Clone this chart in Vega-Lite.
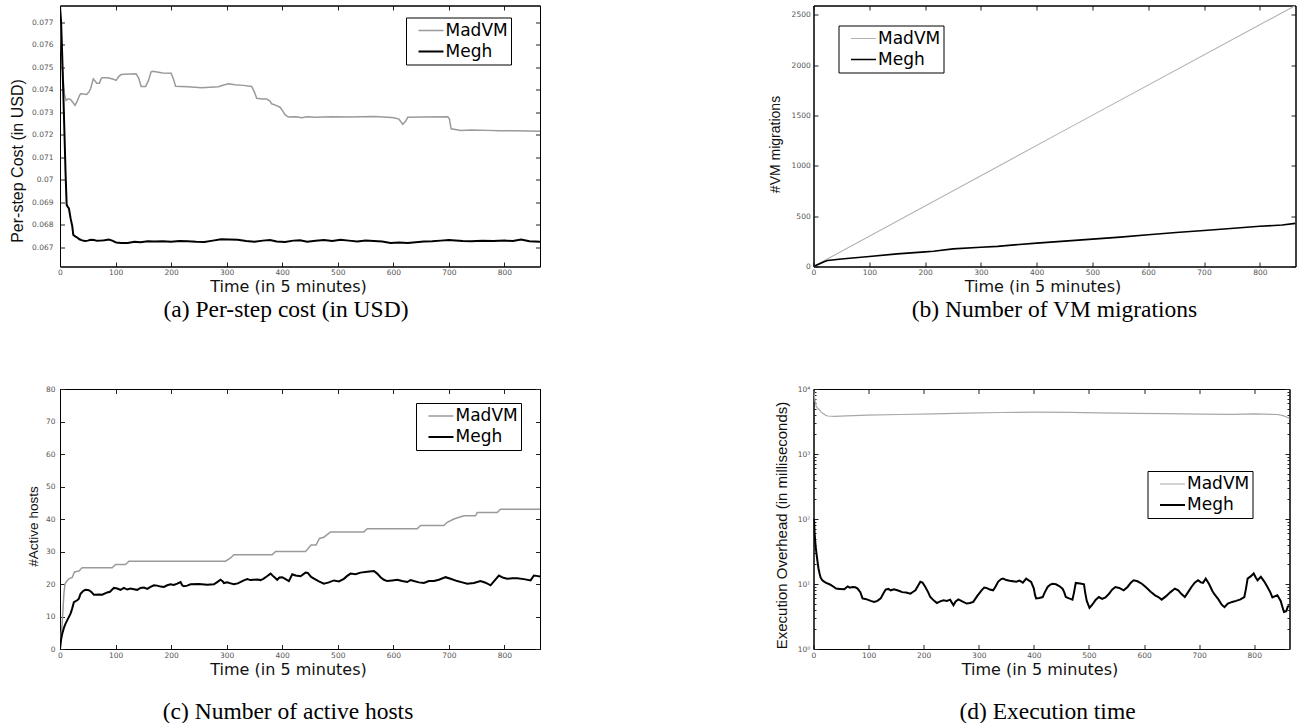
{
"$schema": "https://vega.github.io/schema/vega-lite/v6.json",
"background": "white",
"padding": {"left": 8, "top": 4.5, "right": 5, "bottom": 0},
"config": {
  "view": {"stroke": "black", "strokeWidth": 1},
  "axis": {"grid": false, "domainColor": "#000", "tickColor": "#222", "tickSize": -4.5, "labelFont": "DejaVu Sans", "labelFontSize": 7.5, "labelColor": "#555", "labelFlush": false, "titleFontWeight": "normal", "titleColor": "#111"},
  "legend": {"orient": "none", "title": null, "symbolType": "stroke", "symbolSize": 625, "clipHeight": 21, "strokeColor": "black", "fillColor": "white", "padding": 2.5, "rowPadding": 0, "labelFont": "DejaVu Sans", "labelFontSize": 17, "labelColor": "black", "symbolOffset": 9, "labelOffset": 1, "symbolStrokeWidth": 1.8, "labelLimit": 300},
  "title": {"font": "Liberation Serif", "fontSize": 23.5, "fontWeight": "normal", "color": "black", "orient": "bottom", "anchor": "middle"}
},
"datasets": {
"cost": [
{"t":0,"series":"MadVM","v":0.0776},{"t":4,"series":"MadVM","v":0.075},{"t":8,"series":"MadVM","v":0.0738},{"t":11,"series":"MadVM","v":0.07353},{"t":14,"series":"MadVM","v":0.0736},{"t":17,"series":"MadVM","v":0.0736},{"t":20,"series":"MadVM","v":0.07355},{"t":23,"series":"MadVM","v":0.07345},{"t":27,"series":"MadVM","v":0.07331},{"t":31,"series":"MadVM","v":0.0735},{"t":35,"series":"MadVM","v":0.07375},{"t":37,"series":"MadVM","v":0.07383},{"t":42,"series":"MadVM","v":0.07382},{"t":48,"series":"MadVM","v":0.0738},{"t":52,"series":"MadVM","v":0.0739},{"t":55,"series":"MadVM","v":0.07405},{"t":60,"series":"MadVM","v":0.07449},{"t":63,"series":"MadVM","v":0.0744},{"t":66,"series":"MadVM","v":0.0743},{"t":71,"series":"MadVM","v":0.0743},{"t":74,"series":"MadVM","v":0.0745},{"t":76,"series":"MadVM","v":0.07454},{"t":86,"series":"MadVM","v":0.07454},{"t":95,"series":"MadVM","v":0.07448},{"t":101,"series":"MadVM","v":0.07442},{"t":106,"series":"MadVM","v":0.0746},{"t":110,"series":"MadVM","v":0.07468},{"t":125,"series":"MadVM","v":0.07471},{"t":137,"series":"MadVM","v":0.07472},{"t":142,"series":"MadVM","v":0.0745},{"t":146,"series":"MadVM","v":0.07415},{"t":154,"series":"MadVM","v":0.07415},{"t":159,"series":"MadVM","v":0.0744},{"t":164,"series":"MadVM","v":0.0748},{"t":167,"series":"MadVM","v":0.07483},{"t":185,"series":"MadVM","v":0.07475},{"t":200,"series":"MadVM","v":0.07474},{"t":204,"series":"MadVM","v":0.0745},{"t":208,"series":"MadVM","v":0.07416},{"t":230,"series":"MadVM","v":0.07414},{"t":255,"series":"MadVM","v":0.0741},{"t":270,"series":"MadVM","v":0.07412},{"t":285,"series":"MadVM","v":0.07414},{"t":295,"series":"MadVM","v":0.07422},{"t":303,"series":"MadVM","v":0.07427},{"t":315,"series":"MadVM","v":0.07423},{"t":330,"series":"MadVM","v":0.0742},{"t":345,"series":"MadVM","v":0.07415},{"t":350,"series":"MadVM","v":0.0739},{"t":354,"series":"MadVM","v":0.07363},{"t":365,"series":"MadVM","v":0.0736},{"t":372,"series":"MadVM","v":0.0736},{"t":378,"series":"MadVM","v":0.0735},{"t":381,"series":"MadVM","v":0.07338},{"t":390,"series":"MadVM","v":0.0733},{"t":396,"series":"MadVM","v":0.07323},{"t":400,"series":"MadVM","v":0.0731},{"t":405,"series":"MadVM","v":0.0729},{"t":411,"series":"MadVM","v":0.07279},{"t":425,"series":"MadVM","v":0.0728},{"t":435,"series":"MadVM","v":0.07276},{"t":445,"series":"MadVM","v":0.0728},{"t":460,"series":"MadVM","v":0.07278},{"t":489,"series":"MadVM","v":0.0728},{"t":520,"series":"MadVM","v":0.07279},{"t":565,"series":"MadVM","v":0.07282},{"t":590,"series":"MadVM","v":0.07278},{"t":601,"series":"MadVM","v":0.07276},{"t":610,"series":"MadVM","v":0.0727},{"t":617,"series":"MadVM","v":0.07247},{"t":622,"series":"MadVM","v":0.0726},{"t":626,"series":"MadVM","v":0.07278},{"t":650,"series":"MadVM","v":0.07279},{"t":698,"series":"MadVM","v":0.0728},{"t":701,"series":"MadVM","v":0.0727},{"t":704,"series":"MadVM","v":0.07227},{"t":722,"series":"MadVM","v":0.0722},{"t":740,"series":"MadVM","v":0.07222},{"t":770,"series":"MadVM","v":0.0722},{"t":791,"series":"MadVM","v":0.07218},{"t":820,"series":"MadVM","v":0.07218},{"t":864,"series":"MadVM","v":0.07216},
{"t":0,"series":"Megh","v":0.0777},{"t":2,"series":"Megh","v":0.077},{"t":4,"series":"Megh","v":0.0755},{"t":6,"series":"Megh","v":0.0738},{"t":8,"series":"Megh","v":0.0721},{"t":10,"series":"Megh","v":0.0703},{"t":12,"series":"Megh","v":0.06888},{"t":14,"series":"Megh","v":0.0688},{"t":16,"series":"Megh","v":0.06873},{"t":19,"series":"Megh","v":0.0683},{"t":22,"series":"Megh","v":0.06795},{"t":24,"series":"Megh","v":0.06755},{"t":28,"series":"Megh","v":0.06748},{"t":31,"series":"Megh","v":0.06744},{"t":35,"series":"Megh","v":0.06736},{"t":40,"series":"Megh","v":0.06731},{"t":45,"series":"Megh","v":0.06728},{"t":50,"series":"Megh","v":0.0673},{"t":55,"series":"Megh","v":0.06734},{"t":61,"series":"Megh","v":0.06733},{"t":67,"series":"Megh","v":0.06729},{"t":73,"series":"Megh","v":0.0673},{"t":80,"series":"Megh","v":0.06732},{"t":88,"series":"Megh","v":0.06735},{"t":94,"series":"Megh","v":0.0673},{"t":101,"series":"Megh","v":0.06722},{"t":110,"series":"Megh","v":0.0672},{"t":122,"series":"Megh","v":0.0672},{"t":134,"series":"Megh","v":0.06725},{"t":145,"series":"Megh","v":0.06723},{"t":158,"series":"Megh","v":0.06727},{"t":170,"series":"Megh","v":0.06726},{"t":185,"series":"Megh","v":0.06727},{"t":200,"series":"Megh","v":0.06725},{"t":215,"series":"Megh","v":0.06728},{"t":230,"series":"Megh","v":0.06727},{"t":245,"series":"Megh","v":0.06725},{"t":260,"series":"Megh","v":0.06724},{"t":275,"series":"Megh","v":0.0673},{"t":290,"series":"Megh","v":0.06736},{"t":305,"series":"Megh","v":0.06735},{"t":320,"series":"Megh","v":0.06734},{"t":335,"series":"Megh","v":0.06728},{"t":350,"series":"Megh","v":0.06725},{"t":365,"series":"Megh","v":0.0673},{"t":378,"series":"Megh","v":0.06733},{"t":390,"series":"Megh","v":0.06726},{"t":405,"series":"Megh","v":0.06724},{"t":420,"series":"Megh","v":0.0673},{"t":432,"series":"Megh","v":0.06732},{"t":445,"series":"Megh","v":0.06725},{"t":460,"series":"Megh","v":0.06729},{"t":475,"series":"Megh","v":0.06733},{"t":490,"series":"Megh","v":0.06728},{"t":505,"series":"Megh","v":0.06734},{"t":520,"series":"Megh","v":0.0673},{"t":535,"series":"Megh","v":0.06726},{"t":550,"series":"Megh","v":0.0673},{"t":565,"series":"Megh","v":0.06728},{"t":580,"series":"Megh","v":0.06726},{"t":595,"series":"Megh","v":0.0672},{"t":610,"series":"Megh","v":0.06722},{"t":626,"series":"Megh","v":0.0672},{"t":640,"series":"Megh","v":0.06723},{"t":655,"series":"Megh","v":0.06726},{"t":670,"series":"Megh","v":0.06727},{"t":685,"series":"Megh","v":0.0673},{"t":700,"series":"Megh","v":0.06733},{"t":712,"series":"Megh","v":0.06731},{"t":725,"series":"Megh","v":0.06728},{"t":740,"series":"Megh","v":0.06727},{"t":760,"series":"Megh","v":0.06729},{"t":780,"series":"Megh","v":0.06728},{"t":800,"series":"Megh","v":0.0673},{"t":815,"series":"Megh","v":0.06728},{"t":830,"series":"Megh","v":0.06735},{"t":845,"series":"Megh","v":0.06727},{"t":864,"series":"Megh","v":0.06725}
],
"migrations": [
{"t":0,"series":"MadVM","v":0},{"t":439,"series":"MadVM","v":1320},{"t":864,"series":"MadVM","v":2593},
{"t":0,"series":"Megh","v":0},{"t":10,"series":"Megh","v":25},{"t":20,"series":"Megh","v":50},{"t":25,"series":"Megh","v":60},{"t":50,"series":"Megh","v":75},{"t":100,"series":"Megh","v":100},{"t":150,"series":"Megh","v":125},{"t":200,"series":"Megh","v":145},{"t":215,"series":"Megh","v":152},{"t":250,"series":"Megh","v":175},{"t":300,"series":"Megh","v":192},{"t":330,"series":"Megh","v":200},{"t":360,"series":"Megh","v":215},{"t":400,"series":"Megh","v":232},{"t":450,"series":"Megh","v":252},{"t":500,"series":"Megh","v":272},{"t":550,"series":"Megh","v":292},{"t":600,"series":"Megh","v":315},{"t":650,"series":"Megh","v":338},{"t":700,"series":"Megh","v":358},{"t":730,"series":"Megh","v":370},{"t":800,"series":"Megh","v":400},{"t":840,"series":"Megh","v":412},{"t":864,"series":"Megh","v":428}
],
"hosts": [
{"t":0,"series":"MadVM","v":0},{"t":4,"series":"MadVM","v":8},{"t":7,"series":"MadVM","v":17},{"t":9,"series":"MadVM","v":20},{"t":11,"series":"MadVM","v":20.6},{"t":16,"series":"MadVM","v":21.6},{"t":22,"series":"MadVM","v":22},{"t":26,"series":"MadVM","v":23.7},{"t":34,"series":"MadVM","v":24},{"t":40,"series":"MadVM","v":25},{"t":94,"series":"MadVM","v":25},{"t":100,"series":"MadVM","v":26},{"t":118,"series":"MadVM","v":26},{"t":124,"series":"MadVM","v":27},{"t":298,"series":"MadVM","v":27},{"t":307,"series":"MadVM","v":28},{"t":313,"series":"MadVM","v":29},{"t":382,"series":"MadVM","v":29},{"t":388,"series":"MadVM","v":30},{"t":442,"series":"MadVM","v":30},{"t":452,"series":"MadVM","v":32},{"t":461,"series":"MadVM","v":32},{"t":467,"series":"MadVM","v":34},{"t":475,"series":"MadVM","v":34.4},{"t":487,"series":"MadVM","v":36},{"t":547,"series":"MadVM","v":36},{"t":553,"series":"MadVM","v":37},{"t":643,"series":"MadVM","v":37},{"t":649,"series":"MadVM","v":38},{"t":691,"series":"MadVM","v":38},{"t":697,"series":"MadVM","v":39},{"t":709,"series":"MadVM","v":40},{"t":727,"series":"MadVM","v":41},{"t":748,"series":"MadVM","v":41},{"t":751,"series":"MadVM","v":42},{"t":787,"series":"MadVM","v":42},{"t":793,"series":"MadVM","v":43},{"t":864,"series":"MadVM","v":43},
{"t":0,"series":"Megh","v":0},{"t":2,"series":"Megh","v":3},{"t":4,"series":"Megh","v":4.7},{"t":7,"series":"Megh","v":6.5},{"t":10,"series":"Megh","v":7.8},{"t":14,"series":"Megh","v":9.2},{"t":19,"series":"Megh","v":10.9},{"t":22,"series":"Megh","v":12.5},{"t":25,"series":"Megh","v":14.4},{"t":31,"series":"Megh","v":15},{"t":34,"series":"Megh","v":15.5},{"t":37,"series":"Megh","v":17},{"t":42,"series":"Megh","v":17.9},{"t":46,"series":"Megh","v":18.2},{"t":52,"series":"Megh","v":18.1},{"t":56,"series":"Megh","v":17.6},{"t":61,"series":"Megh","v":16.7},{"t":70,"series":"Megh","v":16.8},{"t":76,"series":"Megh","v":16.7},{"t":85,"series":"Megh","v":17.4},{"t":90,"series":"Megh","v":17.6},{"t":97,"series":"Megh","v":18.8},{"t":103,"series":"Megh","v":18.6},{"t":109,"series":"Megh","v":18.2},{"t":115,"series":"Megh","v":18.8},{"t":121,"series":"Megh","v":18.3},{"t":127,"series":"Megh","v":18.6},{"t":133,"series":"Megh","v":18.4},{"t":139,"series":"Megh","v":18.2},{"t":145,"series":"Megh","v":18.8},{"t":151,"series":"Megh","v":18.9},{"t":157,"series":"Megh","v":18.5},{"t":163,"series":"Megh","v":19.1},{"t":169,"series":"Megh","v":19.6},{"t":175,"series":"Megh","v":19.5},{"t":181,"series":"Megh","v":19.2},{"t":187,"series":"Megh","v":19.1},{"t":193,"series":"Megh","v":19.6},{"t":199,"series":"Megh","v":19.9},{"t":205,"series":"Megh","v":19.7},{"t":211,"series":"Megh","v":20.1},{"t":217,"series":"Megh","v":20.6},{"t":220,"series":"Megh","v":19.6},{"t":223,"series":"Megh","v":19.3},{"t":229,"series":"Megh","v":19.5},{"t":235,"series":"Megh","v":19.9},{"t":250,"series":"Megh","v":20},{"t":265,"series":"Megh","v":19.8},{"t":277,"series":"Megh","v":19.9},{"t":283,"series":"Megh","v":20.6},{"t":289,"series":"Megh","v":21.3},{"t":293,"series":"Megh","v":20.8},{"t":295,"series":"Megh","v":20.3},{"t":301,"series":"Megh","v":20.5},{"t":307,"series":"Megh","v":20.2},{"t":313,"series":"Megh","v":19.9},{"t":320,"series":"Megh","v":20.2},{"t":331,"series":"Megh","v":21.1},{"t":337,"series":"Megh","v":21.5},{"t":343,"series":"Megh","v":21.2},{"t":349,"series":"Megh","v":21.3},{"t":355,"series":"Megh","v":21.4},{"t":361,"series":"Megh","v":21.2},{"t":366,"series":"Megh","v":21.6},{"t":372,"series":"Megh","v":22.3},{"t":379,"series":"Megh","v":23.2},{"t":385,"series":"Megh","v":22.2},{"t":391,"series":"Megh","v":21.3},{"t":395,"series":"Megh","v":22},{"t":400,"series":"Megh","v":22.1},{"t":406,"series":"Megh","v":21.5},{"t":412,"series":"Megh","v":20.9},{"t":418,"series":"Megh","v":23},{"t":424,"series":"Megh","v":22.6},{"t":433,"series":"Megh","v":22.4},{"t":442,"series":"Megh","v":23.5},{"t":446,"series":"Megh","v":23.4},{"t":452,"series":"Megh","v":22.2},{"t":458,"series":"Megh","v":21.6},{"t":466,"series":"Megh","v":20.8},{"t":475,"series":"Megh","v":20.1},{"t":484,"series":"Megh","v":20.5},{"t":493,"series":"Megh","v":21.1},{"t":502,"series":"Megh","v":20.8},{"t":511,"series":"Megh","v":21.6},{"t":517,"series":"Megh","v":22.5},{"t":523,"series":"Megh","v":23.2},{"t":532,"series":"Megh","v":23},{"t":541,"series":"Megh","v":23.5},{"t":553,"series":"Megh","v":23.8},{"t":565,"series":"Megh","v":24},{"t":571,"series":"Megh","v":23.2},{"t":577,"series":"Megh","v":22.1},{"t":583,"series":"Megh","v":21.3},{"t":589,"series":"Megh","v":20.9},{"t":598,"series":"Megh","v":21.1},{"t":607,"series":"Megh","v":21.3},{"t":616,"series":"Megh","v":20.9},{"t":625,"series":"Megh","v":20.6},{"t":631,"series":"Megh","v":21.2},{"t":637,"series":"Megh","v":20.9},{"t":646,"series":"Megh","v":20.5},{"t":655,"series":"Megh","v":20.3},{"t":664,"series":"Megh","v":20.9},{"t":673,"series":"Megh","v":20.9},{"t":682,"series":"Megh","v":21.3},{"t":694,"series":"Megh","v":22.1},{"t":703,"series":"Megh","v":21.6},{"t":715,"series":"Megh","v":20.9},{"t":724,"series":"Megh","v":20.5},{"t":733,"series":"Megh","v":20.1},{"t":745,"series":"Megh","v":20.3},{"t":757,"series":"Megh","v":20.9},{"t":766,"series":"Megh","v":20.4},{"t":775,"series":"Megh","v":19.6},{"t":781,"series":"Megh","v":20.8},{"t":790,"series":"Megh","v":22.6},{"t":798,"series":"Megh","v":21.9},{"t":805,"series":"Megh","v":21.6},{"t":814,"series":"Megh","v":21.8},{"t":823,"series":"Megh","v":21.8},{"t":835,"series":"Megh","v":21.5},{"t":847,"series":"Megh","v":21.1},{"t":853,"series":"Megh","v":22.6},{"t":858,"series":"Megh","v":22.5},{"t":864,"series":"Megh","v":22.3}
],
"exec": [
{"t":0,"series":"MadVM","v":9500},{"t":1,"series":"MadVM","v":8600},{"t":3,"series":"MadVM","v":6500},{"t":5,"series":"MadVM","v":5340},{"t":8,"series":"MadVM","v":5000},{"t":11,"series":"MadVM","v":4760},{"t":14,"series":"MadVM","v":4400},{"t":17,"series":"MadVM","v":4220},{"t":22,"series":"MadVM","v":3950},{"t":26,"series":"MadVM","v":3840},{"t":38,"series":"MadVM","v":3800},{"t":60,"series":"MadVM","v":3850},{"t":98,"series":"MadVM","v":3950},{"t":158,"series":"MadVM","v":4050},{"t":218,"series":"MadVM","v":4150},{"t":278,"series":"MadVM","v":4250},{"t":338,"series":"MadVM","v":4350},{"t":400,"series":"MadVM","v":4400},{"t":464,"series":"MadVM","v":4380},{"t":520,"series":"MadVM","v":4300},{"t":584,"series":"MadVM","v":4220},{"t":640,"series":"MadVM","v":4180},{"t":704,"series":"MadVM","v":4100},{"t":760,"series":"MadVM","v":4080},{"t":800,"series":"MadVM","v":4150},{"t":842,"series":"MadVM","v":4050},{"t":852,"series":"MadVM","v":3900},{"t":864,"series":"MadVM","v":3550},
{"t":0,"series":"Megh","v":100},{"t":1,"series":"Megh","v":96},{"t":2,"series":"Megh","v":60},{"t":4,"series":"Megh","v":37},{"t":7,"series":"Megh","v":23},{"t":9,"series":"Megh","v":17.5},{"t":11,"series":"Megh","v":14.5},{"t":13,"series":"Megh","v":12.5},{"t":16,"series":"Megh","v":11.4},{"t":20,"series":"Megh","v":10.8},{"t":23,"series":"Megh","v":10.4},{"t":28,"series":"Megh","v":10},{"t":32,"series":"Megh","v":9.6},{"t":37,"series":"Megh","v":9},{"t":41,"series":"Megh","v":8.5},{"t":48,"series":"Megh","v":8.4},{"t":56,"series":"Megh","v":8.3},{"t":62,"series":"Megh","v":9.2},{"t":66,"series":"Megh","v":8.8},{"t":71,"series":"Megh","v":9},{"t":76,"series":"Megh","v":8.9},{"t":80,"series":"Megh","v":8.5},{"t":85,"series":"Megh","v":7.5},{"t":89,"series":"Megh","v":6},{"t":94,"series":"Megh","v":5.9},{"t":98,"series":"Megh","v":5.75},{"t":104,"series":"Megh","v":5.5},{"t":110,"series":"Megh","v":5.3},{"t":116,"series":"Megh","v":5.5},{"t":122,"series":"Megh","v":6},{"t":127,"series":"Megh","v":7.2},{"t":131,"series":"Megh","v":8.2},{"t":136,"series":"Megh","v":8.4},{"t":140,"series":"Megh","v":8},{"t":146,"series":"Megh","v":8.3},{"t":152,"series":"Megh","v":8},{"t":156,"series":"Megh","v":7.8},{"t":161,"series":"Megh","v":7.5},{"t":168,"series":"Megh","v":7.4},{"t":176,"series":"Megh","v":7.1},{"t":181,"series":"Megh","v":7.6},{"t":185,"series":"Megh","v":8},{"t":190,"series":"Megh","v":9.5},{"t":194,"series":"Megh","v":10.8},{"t":198,"series":"Megh","v":10.5},{"t":203,"series":"Megh","v":9},{"t":208,"series":"Megh","v":7.5},{"t":212,"series":"Megh","v":6.3},{"t":218,"series":"Megh","v":5.6},{"t":224,"series":"Megh","v":5.1},{"t":230,"series":"Megh","v":5.4},{"t":236,"series":"Megh","v":5.6},{"t":242,"series":"Megh","v":5.5},{"t":248,"series":"Megh","v":5.75},{"t":251,"series":"Megh","v":5.2},{"t":254,"series":"Megh","v":4.7},{"t":258,"series":"Megh","v":5.4},{"t":263,"series":"Megh","v":5.8},{"t":270,"series":"Megh","v":5.4},{"t":278,"series":"Megh","v":5},{"t":284,"series":"Megh","v":5.1},{"t":290,"series":"Megh","v":5.3},{"t":297,"series":"Megh","v":6.5},{"t":305,"series":"Megh","v":8},{"t":310,"series":"Megh","v":8.8},{"t":314,"series":"Megh","v":8.7},{"t":320,"series":"Megh","v":8.2},{"t":326,"series":"Megh","v":8},{"t":330,"series":"Megh","v":9},{"t":335,"series":"Megh","v":10.8},{"t":340,"series":"Megh","v":11.8},{"t":344,"series":"Megh","v":12.1},{"t":350,"series":"Megh","v":11.5},{"t":356,"series":"Megh","v":11.2},{"t":362,"series":"Megh","v":11},{"t":368,"series":"Megh","v":10.8},{"t":374,"series":"Megh","v":11.3},{"t":380,"series":"Megh","v":10.5},{"t":386,"series":"Megh","v":12.1},{"t":390,"series":"Megh","v":11.5},{"t":395,"series":"Megh","v":10.8},{"t":400,"series":"Megh","v":8.5},{"t":402,"series":"Megh","v":6.8},{"t":404,"series":"Megh","v":6},{"t":410,"series":"Megh","v":6.1},{"t":416,"series":"Megh","v":6.3},{"t":420,"series":"Megh","v":7.5},{"t":425,"series":"Megh","v":9},{"t":430,"series":"Megh","v":9.8},{"t":434,"series":"Megh","v":10.1},{"t":440,"series":"Megh","v":9.9},{"t":446,"series":"Megh","v":9.3},{"t":452,"series":"Megh","v":8.5},{"t":455,"series":"Megh","v":7.5},{"t":458,"series":"Megh","v":6.3},{"t":464,"series":"Megh","v":6},{"t":470,"series":"Megh","v":5.75},{"t":473,"series":"Megh","v":7.5},{"t":476,"series":"Megh","v":10.4},{"t":484,"series":"Megh","v":10.2},{"t":491,"series":"Megh","v":9.9},{"t":493,"series":"Megh","v":7.5},{"t":496,"series":"Megh","v":5.5},{"t":501,"series":"Megh","v":4.3},{"t":506,"series":"Megh","v":4.8},{"t":512,"series":"Megh","v":5.7},{"t":518,"series":"Megh","v":6.3},{"t":524,"series":"Megh","v":5.9},{"t":530,"series":"Megh","v":6.2},{"t":536,"series":"Megh","v":7},{"t":542,"series":"Megh","v":8.2},{"t":548,"series":"Megh","v":9},{"t":555,"series":"Megh","v":8.7},{"t":563,"series":"Megh","v":8},{"t":570,"series":"Megh","v":9},{"t":576,"series":"Megh","v":10.5},{"t":581,"series":"Megh","v":11.4},{"t":588,"series":"Megh","v":11},{"t":596,"series":"Megh","v":10.1},{"t":604,"series":"Megh","v":8.8},{"t":612,"series":"Megh","v":7.6},{"t":620,"series":"Megh","v":6.7},{"t":626,"series":"Megh","v":6.3},{"t":632,"series":"Megh","v":5.75},{"t":640,"series":"Megh","v":6.5},{"t":648,"series":"Megh","v":7.5},{"t":656,"series":"Megh","v":8.5},{"t":662,"series":"Megh","v":8},{"t":668,"series":"Megh","v":7},{"t":674,"series":"Megh","v":6.3},{"t":680,"series":"Megh","v":7.5},{"t":686,"series":"Megh","v":9},{"t":692,"series":"Megh","v":10.5},{"t":698,"series":"Megh","v":11.4},{"t":703,"series":"Megh","v":10.6},{"t":707,"series":"Megh","v":10.4},{"t":712,"series":"Megh","v":12.1},{"t":718,"series":"Megh","v":10},{"t":724,"series":"Megh","v":7.8},{"t":728,"series":"Megh","v":6.9},{"t":735,"series":"Megh","v":5.8},{"t":741,"series":"Megh","v":4.8},{"t":746,"series":"Megh","v":4.4},{"t":752,"series":"Megh","v":5},{"t":760,"series":"Megh","v":5.3},{"t":767,"series":"Megh","v":5.5},{"t":775,"series":"Megh","v":5.8},{"t":782,"series":"Megh","v":6.3},{"t":785,"series":"Megh","v":8.5},{"t":788,"series":"Megh","v":12.1},{"t":794,"series":"Megh","v":13.2},{"t":799,"series":"Megh","v":14.5},{"t":803,"series":"Megh","v":12.5},{"t":806,"series":"Megh","v":11.4},{"t":812,"series":"Megh","v":12.9},{"t":818,"series":"Megh","v":11},{"t":824,"series":"Megh","v":9},{"t":829,"series":"Megh","v":7.5},{"t":833,"series":"Megh","v":6.2},{"t":838,"series":"Megh","v":6.5},{"t":842,"series":"Megh","v":6.7},{"t":848,"series":"Megh","v":5.5},{"t":852,"series":"Megh","v":4.2},{"t":854,"series":"Megh","v":3.7},{"t":858,"series":"Megh","v":3.8},{"t":861,"series":"Megh","v":4.5},{"t":864,"series":"Megh","v":4.6}
]
},
"columns": 2,
"spacing": {"row": 122.5, "column": 273.5},
"bounds": "flush",
"resolve": {"scale": {"color": "independent", "strokeWidth": "independent", "x": "independent", "y": "independent"}, "legend": {"color": "independent", "strokeWidth": "independent"}},
"concat": [
{
"width": 480, "height": 261,
"title": {"text": "(a) Per-step cost (in USD)", "offset": 3, "dx": -14},
"data": {"name": "cost"},
"layer": [
{"mark": {"type": "line", "clip": true},
 "encoding": {
  "x": {"field": "t", "type": "quantitative", "scale": {"domain": [0, 864], "nice": false, "zero": false},
        "axis": {"orient": "bottom", "values": [0,100,200,300,400,500,600,700,800], "labelPadding": 6.5, "title": "Time (in 5 minutes)", "titleFont": "DejaVu Sans", "titleFontSize": 16, "titleX": 228, "titleY": 20, "titleBaseline": "middle", "titleAlign": "center"}},
  "y": {"field": "v", "type": "quantitative", "scale": {"domain": [0.06615, 0.07775], "nice": false, "zero": false},
        "axis": {"orient": "left", "values": [0.067,0.068,0.069,0.07,0.071,0.072,0.073,0.074,0.075,0.076,0.077], "format": ".3~f", "labelPadding": 11.5, "title": "Per-step Cost (in USD)", "titleFont": "Liberation Sans", "titleFontSize": 16, "titleX": -35, "titleY": 155, "titleBaseline": "bottom", "titleAlign": "center", "titleAngle": -90}},
  "color": {"field": "series", "type": "nominal", "scale": {"domain": ["MadVM", "Megh"], "range": ["#9a9a9a", "#000000"]},
            "legend": {"legendX": 346, "legendY": 12, "labelExpr": "datum.label + '\u2003\u2003'"}},
  "strokeWidth": {"field": "series", "type": "nominal", "scale": {"domain": ["MadVM", "Megh"], "range": [1.5, 2]}, "legend": null}
 }},
{"mark": {"type": "line", "opacity": 0},
 "encoding": {
  "x": {"field": "t", "type": "quantitative", "axis": {"orient": "top", "values": [0,100,200,300,400,500,600,700,800], "labels": false, "title": null}},
  "y": {"field": "v", "type": "quantitative", "axis": {"orient": "right", "values": [0.067,0.068,0.069,0.07,0.071,0.072,0.073,0.074,0.075,0.076,0.077], "labels": false, "title": null}},
  "detail": {"field": "series"}
 }}
],
"resolve": {"axis": {"x": "independent", "y": "independent"}}
},
{
"width": 482, "height": 261,
"title": {"text": "(b) Number of VM migrations", "offset": 3, "dx": 0},
"data": {"name": "migrations"},
"layer": [
{"mark": {"type": "line", "clip": true},
 "encoding": {
  "x": {"field": "t", "type": "quantitative", "scale": {"domain": [0, 864], "nice": false, "zero": false},
        "axis": {"orient": "bottom", "values": [0,100,200,300,400,500,600,700,800], "labelPadding": 6.5, "title": "Time (in 5 minutes)", "titleFont": "DejaVu Sans", "titleFontSize": 16, "titleX": 229, "titleY": 20, "titleBaseline": "middle", "titleAlign": "center"}},
  "y": {"field": "v", "type": "quantitative", "scale": {"domain": [0, 2593], "nice": false, "zero": false},
        "axis": {"orient": "left", "values": [0,500,1000,1500,2000,2500], "format": "d", "labelPadding": 7.8, "title": "#VM migrations", "titleFont": "Liberation Sans", "titleFontSize": 14, "titleX": -31, "titleY": 138.5, "titleBaseline": "bottom", "titleAlign": "center", "titleAngle": -90}},
  "color": {"field": "series", "type": "nominal", "scale": {"domain": ["MadVM", "Megh"], "range": ["#b2b2b2", "#000000"]},
            "legend": {"legendX": 25, "legendY": 20, "symbolStrokeWidth": 1.4, "labelExpr": "datum.label + '\u2003\u2003'"}},
  "strokeWidth": {"field": "series", "type": "nominal", "scale": {"domain": ["MadVM", "Megh"], "range": [1.1, 1.6]}, "legend": null}
 }},
{"mark": {"type": "line", "opacity": 0},
 "encoding": {
  "x": {"field": "t", "type": "quantitative", "axis": {"orient": "top", "values": [0,100,200,300,400,500,600,700,800], "labels": false, "title": null}},
  "y": {"field": "v", "type": "quantitative", "axis": {"orient": "right", "values": [0,500,1000,1500,2000,2500], "labels": false, "title": null}},
  "detail": {"field": "series"}
 }}
],
"resolve": {"axis": {"x": "independent", "y": "independent"}}
},
{
"width": 480, "height": 260,
"title": {"text": "(c) Number of active hosts", "offset": 23, "dx": -12},
"data": {"name": "hosts"},
"layer": [
{"mark": {"type": "line", "clip": true},
 "encoding": {
  "x": {"field": "t", "type": "quantitative", "scale": {"domain": [0, 864], "nice": false, "zero": false},
        "axis": {"orient": "bottom", "values": [0,100,200,300,400,500,600,700,800], "labelPadding": 6.5, "title": "Time (in 5 minutes)", "titleFont": "DejaVu Sans", "titleFontSize": 16, "titleX": 228, "titleY": 20, "titleBaseline": "middle", "titleAlign": "center"}},
  "y": {"field": "v", "type": "quantitative", "scale": {"domain": [0, 80], "nice": false, "zero": false},
        "axis": {"orient": "left", "values": [0,10,20,30,40,50,60,70,80], "labelPadding": 9.5, "title": "#Active hosts", "titleFont": "Liberation Sans", "titleFontSize": 13.5, "titleX": -20, "titleY": 137, "titleBaseline": "bottom", "titleAlign": "center", "titleAngle": -90}},
  "color": {"field": "series", "type": "nominal", "scale": {"domain": ["MadVM", "Megh"], "range": ["#9a9a9a", "#000000"]},
            "legend": {"legendX": 356, "legendY": 14, "labelExpr": "datum.label + '\u2003\u2003'"}},
  "strokeWidth": {"field": "series", "type": "nominal", "scale": {"domain": ["MadVM", "Megh"], "range": [1.5, 2]}, "legend": null}
 }},
{"mark": {"type": "line", "opacity": 0},
 "encoding": {
  "x": {"field": "t", "type": "quantitative", "axis": {"orient": "top", "values": [0,100,200,300,400,500,600,700,800], "labels": false, "title": null}},
  "y": {"field": "v", "type": "quantitative", "axis": {"orient": "right", "values": [0,10,20,30,40,50,60,70,80], "labels": false, "title": null}},
  "detail": {"field": "series"}
 }}
],
"resolve": {"axis": {"x": "independent", "y": "independent"}}
},
{
"width": 476, "height": 260,
"title": {"text": "(d) Execution time", "offset": 23, "dx": -4},
"data": {"name": "exec"},
"layer": [
{"mark": {"type": "line", "clip": true},
 "encoding": {
  "x": {"field": "t", "type": "quantitative", "scale": {"domain": [0, 864], "nice": false, "zero": false},
        "axis": {"orient": "bottom", "values": [0,100,200,300,400,500,600,700,800], "labelPadding": 6.5, "title": "Time (in 5 minutes)", "titleFont": "DejaVu Sans", "titleFontSize": 16, "titleX": 226, "titleY": 20, "titleBaseline": "middle", "titleAlign": "center"}},
  "y": {"field": "v", "type": "quantitative", "scale": {"type": "log", "domain": [1, 10000], "nice": false},
        "axis": {"orient": "left", "values": [1,10,100,1000,10000], "labelExpr": "'10' + ['⁰','¹','²','³','⁴'][round(log(datum.value)/LN10)]", "labelPadding": 8.2, "title": "Execution Overhead (in milliseconds)", "titleFont": "Liberation Sans", "titleFontSize": 15, "titleX": -24, "titleY": 136, "titleBaseline": "bottom", "titleAlign": "center", "titleAngle": -90}},
  "color": {"field": "series", "type": "nominal", "scale": {"domain": ["MadVM", "Megh"], "range": ["#a8a8a8", "#000000"]},
            "legend": {"legendX": 334, "legendY": 82, "labelExpr": "datum.label + '\u2003\u2003'"}},
  "strokeWidth": {"field": "series", "type": "nominal", "scale": {"domain": ["MadVM", "Megh"], "range": [1.2, 2]}, "legend": null}
 }},
{"mark": {"type": "line", "opacity": 0},
 "encoding": {
  "x": {"field": "t", "type": "quantitative", "axis": {"orient": "top", "values": [0,100,200,300,400,500,600,700,800], "labels": false, "title": null}},
  "y": {"field": "v", "type": "quantitative", "axis": {"orient": "right", "values": [1,10,100,1000,10000], "labels": false, "title": null}},
  "detail": {"field": "series"}
 }},
{"mark": {"type": "line", "opacity": 0},
 "encoding": {
  "x": {"field": "t", "type": "quantitative", "axis": null},
  "y": {"field": "v", "type": "quantitative", "axis": {"orient": "left", "values": [2,3,4,5,6,7,8,9,20,30,40,50,60,70,80,90,200,300,400,500,600,700,800,900,2000,3000,4000,5000,6000,7000,8000,9000], "labels": false, "title": null, "domain": false, "tickSize": -2.5}},
  "detail": {"field": "series"}
 }},
{"mark": {"type": "line", "opacity": 0},
 "encoding": {
  "x": {"field": "t", "type": "quantitative", "axis": null},
  "y": {"field": "v", "type": "quantitative", "axis": {"orient": "right", "values": [2,3,4,5,6,7,8,9,20,30,40,50,60,70,80,90,200,300,400,500,600,700,800,900,2000,3000,4000,5000,6000,7000,8000,9000], "labels": false, "title": null, "domain": false, "tickSize": -2.5}},
  "detail": {"field": "series"}
 }}
],
"resolve": {"axis": {"x": "independent", "y": "independent"}}
}
]
}
